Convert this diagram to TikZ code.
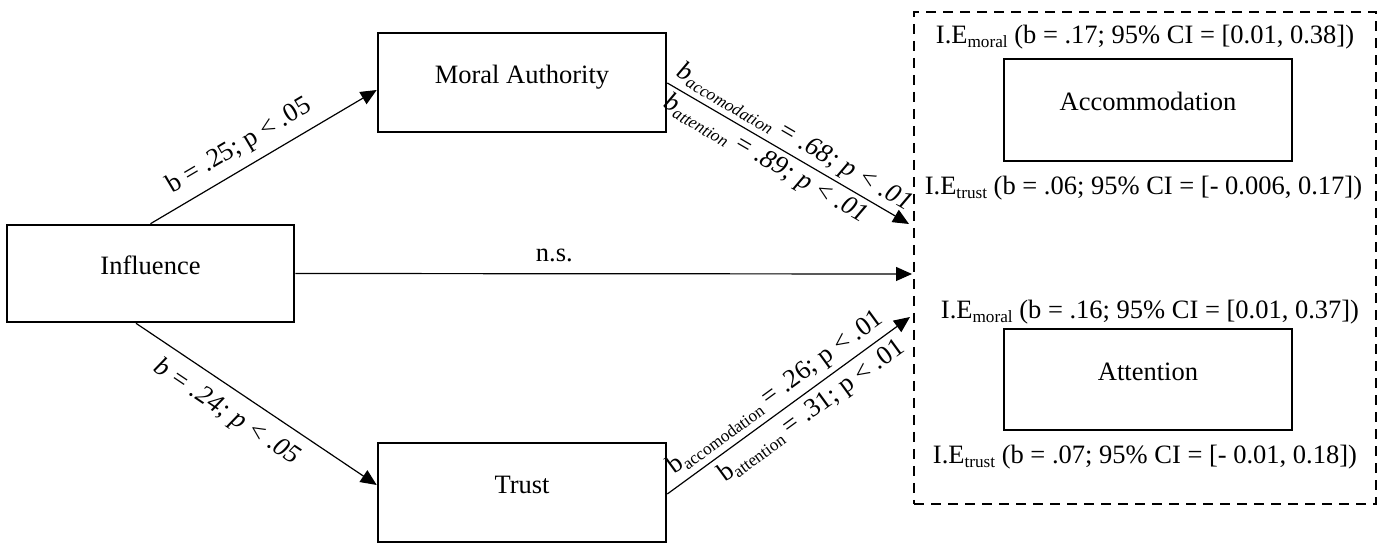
\documentclass[tikz,border=0pt]{standalone}
\usepackage{fontspec}
\setmainfont{Liberation Serif}
\usetikzlibrary{arrows.meta,calc}
\newcommand{\sbx}[1]{\raisebox{-2pt}{\fontsize{8.6pt}{9pt}\selectfont #1}}
\begin{document}
\begin{tikzpicture}[x=0.5pt,y=-0.5pt,
  every node/.style={font=\fontsize{13.25pt}{15pt}\selectfont},
  box/.style={draw, line width=1.3pt, rectangle, text height=9pt, text depth=8pt, inner sep=0pt},
  conn/.style={line width=0.6pt, -{Triangle[length=8pt,width=7pt]}},
  lab/.style={sloped, inner sep=1.5pt},
  itlab/.style={lab, font=\fontsize{13.25pt}{15pt}\selectfont\itshape},
  grpbox/.style={draw, line width=1.4pt, dash pattern=on 5pt off 3.5pt, rectangle, inner sep=0pt}]
\useasboundingbox (0,0) rectangle (1389,545);
% boxes
\node[box, minimum width=143.5pt, minimum height=48.5pt] (infl) at (150.5,273.5) {Influence};
\node[box, minimum width=144pt, minimum height=49.5pt] (moral) at (522,82.5) {Moral Authority};
\node[box, minimum width=144pt, minimum height=49.5pt] (trust) at (522,492.5) {Trust};
\node[grpbox, minimum width=231pt, minimum height=246pt] (grp) at (1145,258) {};
\node[box, minimum width=144pt, minimum height=51pt] (acc) at (1148,110) {Accommodation};
\node[box, minimum width=144pt, minimum height=50.5pt] (att) at (1148,379.5) {Attention};
% indirect effect texts
\node[anchor=base, inner sep=0pt] (ie1) at (1145,44) {I.E\sbx{moral} (b = .17; 95\% CI = [0.01, 0.38])};
\node[anchor=base, inner sep=0pt] (ie2) at (1143.5,195) {I.E\sbx{trust} (b = .06; 95\% CI = [- 0.006, 0.17])};
\node[anchor=base, inner sep=0pt] (ie3) at (1150,319) {I.E\sbx{moral} (b = .16; 95\% CI = [0.01, 0.37])};
\node[anchor=base, inner sep=0pt] (ie4) at (1145,464) {I.E\sbx{trust} (b = .07; 95\% CI = [- 0.01, 0.18])};
% arrow end points at the dashed box
\coordinate (t0) at (912,274);
\coordinate (t1) at (909,224);
\coordinate (t2) at (910,317);
% connectors
\draw[conn] (infl.north) -- ($(moral.west)+(0,7.5)$)
  node[lab, pos=0.44, above=3pt] {b = .25; p < .05};
\draw[conn] ($(infl.south)+(-14.5,0)$) -- ($(trust.west)+(0,-7.5)$)
  node[itlab, pos=0.43, below=4pt] {b = .24; p < .05};
\draw[conn] (infl.east) -- (t0)
  node[pos=0.42, above=4pt, inner sep=1.5pt] {n.s.};
\draw[conn] ($(moral.east)+(0,0.5)$) -- (t1)
  node[itlab, pos=0.49, above=0.5pt] {b\sbx{accomodation} = .68; p < .01}
  node[itlab, pos=0.44, below=0.5pt] {b\sbx{attention} = .89; p < .01};
\draw[conn] ($(trust.east)+(0,1.5)$) -- (t2)
  node[lab, pos=0.49, above=1pt] {b\sbx{accomodation} = .26; p < .01}
  node[lab, pos=0.55, below=1.5pt] {b\sbx{attention} = .31; p < .01};
\end{tikzpicture}
\end{document}
